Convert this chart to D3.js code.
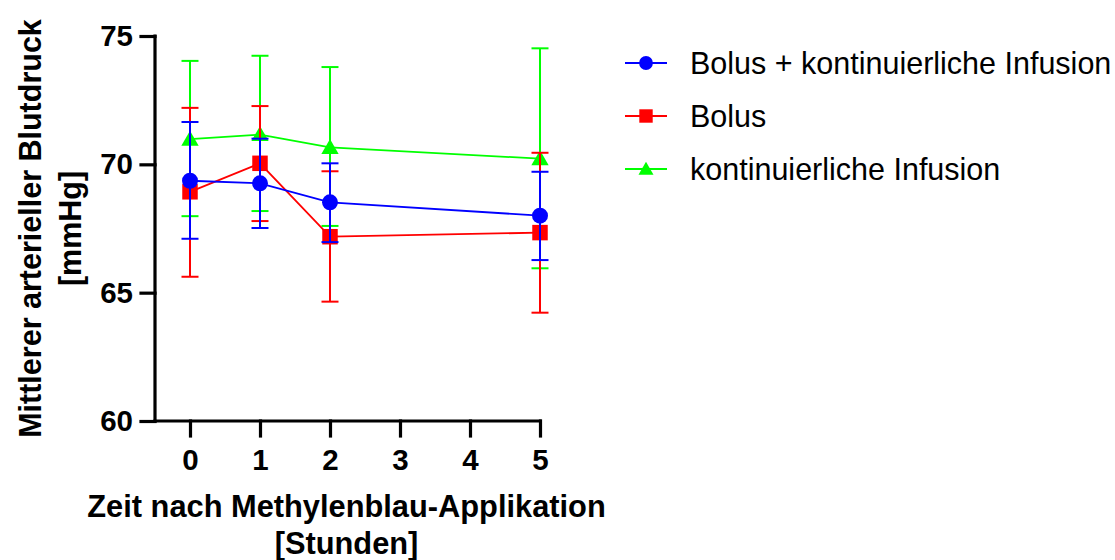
<!DOCTYPE html>
<html>
<head>
<meta charset="utf-8">
<script src="https://cdn.jsdelivr.net/npm/d3@7"></script>
<style>
  html, body { margin: 0; padding: 0; background: #fff; }
  svg { display: block; font-family: "Liberation Sans", Arial, sans-serif; }
</style>
</head>
<body>
<svg id="chart" width="1115" height="560"></svg>
<script>
// Time points (hours after methylene blue application)
const hours = [0, 1, 2, 5];
const xTicks = [0, 1, 2, 3, 4, 5];
const yTicks = [60, 65, 70, 75];

// Mean arterial pressure, mmHg: mean, upper and lower error limits
const bolusInfusionMean  = [69.36, 69.26, 68.52, 68.00];
const bolusInfusionUpper = [71.65, 71.00, 70.04, 69.71];
const bolusInfusionLower = [67.10, 67.52, 66.97, 66.27];

const bolusMean  = [68.93, 70.04, 67.18, 67.34];
const bolusUpper = [72.20, 72.27, 69.73, 70.45];
const bolusLower = [65.62, 67.79, 64.65, 64.22];

const infusionMean  = [70.98, 71.16, 70.66, 70.22];
const infusionUpper = [74.03, 74.23, 73.79, 74.52];
const infusionLower = [67.98, 68.18, 67.60, 65.95];

const seriesNames = ["Bolus + kontinuierliche Infusion", "Bolus", "kontinuierliche Infusion"];

const series = [
  { name: seriesNames[0], color: "#0000ff", symbol: d3.symbolCircle,   size: 200, mean: bolusInfusionMean, upper: bolusInfusionUpper, lower: bolusInfusionLower },
  { name: seriesNames[1], color: "#ff0000", symbol: d3.symbolSquare,   size: 240, mean: bolusMean,         upper: bolusUpper,         lower: bolusLower },
  { name: seriesNames[2], color: "#00ff00", symbol: d3.symbolTriangle, size: 130, mean: infusionMean,      upper: infusionUpper,      lower: infusionLower }
];

const svg = d3.select("#chart");

const x = d3.scaleLinear().domain([0, 5]).range([190, 540]);
const y = d3.scaleLinear().domain([60, 75]).range([421, 36]);
const axisLeftX = 155;

// Y axis
const yAxis = svg.append("g")
  .attr("transform", `translate(${axisLeftX},0)`)
  .call(d3.axisLeft(y).tickValues(yTicks).tickSize(14).tickPadding(8).tickFormat(d3.format("d")));
yAxis.select(".domain").attr("d", `M0,${y(75)}V${y(60)}`);

// X axis
const xAxis = svg.append("g")
  .attr("transform", `translate(0,${y(60)})`)
  .call(d3.axisBottom(x).tickValues(xTicks).tickSize(15).tickPadding(13).tickFormat(d3.format("d")));
xAxis.select(".domain").attr("d", `M${axisLeftX},0H${x(5)}`);

svg.selectAll(".domain, .tick line")
  .attr("stroke", "#000").attr("stroke-width", 3.2).attr("stroke-linecap", "square");
svg.selectAll(".tick text")
  .attr("fill", "#000")
  .style("font-size", "29.5px").style("font-weight", "bold")
  .style("font-family", "'Liberation Sans', Arial, sans-serif");

// Axis titles
const yTitle = svg.append("text")
  .attr("transform", `translate(0,${(y(60) + y(75)) / 2}) rotate(-90)`)
  .attr("text-anchor", "middle")
  .style("font-size", "30.5px").style("font-weight", "bold");
yTitle.append("tspan").attr("x", 0).attr("y", 41).text("Mittlerer arterieller Blutdruck");
yTitle.append("tspan").attr("x", 0).attr("y", 81).text("[mmHg]");

const xTitle = svg.append("text")
  .attr("text-anchor", "middle")
  .style("font-size", "30.8px").style("font-weight", "bold");
xTitle.append("tspan").attr("x", (axisLeftX + x(5)) / 2 - 1).attr("y", 517).text("Zeit nach Methylenblau-Applikation");
xTitle.append("tspan").attr("x", (axisLeftX + x(5)) / 2 - 1).attr("y", 554).text("[Stunden]");

// Data: draw green first, then red, then blue on top
const drawOrder = [series[2], series[1], series[0]];
const capHalf = 8.5;
const line = d3.line().x(d => x(d[0])).y(d => y(d[1]));

drawOrder.forEach(s => {
  const g = svg.append("g");
  const pts = hours.map((h, i) => ({ h, m: s.mean[i], up: s.upper[i], lo: s.lower[i] }));

  // error bars
  const eb = g.selectAll(".eb").data(pts).join("g");
  eb.append("line")
    .attr("x1", d => x(d.h)).attr("x2", d => x(d.h))
    .attr("y1", d => y(d.up)).attr("y2", d => y(d.lo))
    .attr("stroke", s.color).attr("stroke-width", 2);
  eb.append("line")
    .attr("x1", d => x(d.h) - capHalf).attr("x2", d => x(d.h) + capHalf)
    .attr("y1", d => y(d.up)).attr("y2", d => y(d.up))
    .attr("stroke", s.color).attr("stroke-width", 2);
  eb.append("line")
    .attr("x1", d => x(d.h) - capHalf).attr("x2", d => x(d.h) + capHalf)
    .attr("y1", d => y(d.lo)).attr("y2", d => y(d.lo))
    .attr("stroke", s.color).attr("stroke-width", 2);

  // connecting line
  g.append("path")
    .attr("d", line(pts.map(d => [d.h, d.m])))
    .attr("fill", "none").attr("stroke", s.color).attr("stroke-width", 1.8);

  // markers
  g.selectAll(".mk").data(pts).join("path")
    .attr("transform", d => `translate(${x(d.h)},${y(d.m) + (s.symbol === d3.symbolTriangle ? 1.5 : 0)})`)
    .attr("d", d3.symbol().type(s.symbol).size(s.size))
    .attr("fill", s.color);
});

// Legend
const legend = svg.append("g");
series.forEach((s, i) => {
  const cy = 63 + i * 53;
  const row = legend.append("g").attr("transform", `translate(0,${cy})`);
  row.append("line").attr("x1", 625).attr("x2", 667).attr("y1", 0).attr("y2", 0)
    .attr("stroke", s.color).attr("stroke-width", 1.8);
  row.append("path")
    .attr("transform", `translate(646,${s.symbol === d3.symbolTriangle ? 1.5 : 0})`)
    .attr("d", d3.symbol().type(s.symbol).size(s.size * 0.75))
    .attr("fill", s.color);
  row.append("text").attr("x", 690).attr("y", 11)
    .style("font-size", "30.5px").attr("fill", "#000")
    .text(s.name);
});
</script>
</body>
</html>
